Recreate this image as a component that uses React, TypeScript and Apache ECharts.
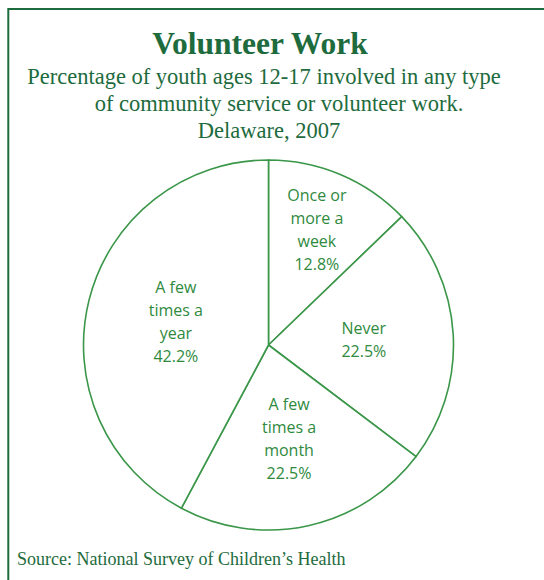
import React, { useEffect, useRef } from "react";
import * as echarts from "echarts";

const categories = [
  "Once or\nmore a\nweek",
  "Never",
  "A few\ntimes a\nmonth",
  "A few\ntimes a\nyear",
];
const percentages = [12.8, 22.5, 22.5, 42.2];

const titleText = "Volunteer Work";
const subtitleLines = [
  "Percentage of youth ages 12-17 involved in any type",
  "of community service or volunteer work.",
  "Delaware, 2007",
];
const sourceText = "Source: National Survey of Children\u2019s Health";

const DARK_GREEN = "#1e6b3d";
const LABEL_GREEN = "#2f8a3e";
const PIE_GREEN = "#3a9648";

export default function App() {
  const ref = useRef<HTMLDivElement>(null);

  useEffect(() => {
    if (!ref.current) return;
    const chart = echarts.init(ref.current, undefined, { renderer: "svg" });
    const subX = [264, 279, 269];
    const subY = [76, 103, 130];
    chart.setOption({
      animation: false,
      backgroundColor: "#ffffff",
      graphic: [
        {
          type: "rect",
          shape: { x: 8.3, y: 9, width: 700, height: 700 },
          style: { fill: "none", stroke: DARK_GREEN, lineWidth: 2 },
          silent: true,
        },
        {
          type: "text",
          x: 260,
          y: 43,
          style: {
            text: titleText,
            font: 'bold 31.5px "Liberation Serif", "Times New Roman", serif',
            fill: DARK_GREEN,
            textAlign: "center",
            textVerticalAlign: "middle",
          },
        },
        ...subtitleLines.map((line, i) => ({
          type: "text",
          x: subX[i],
          y: subY[i],
          style: {
            text: line,
            font: '22.5px "Liberation Serif", "Times New Roman", serif',
            fill: DARK_GREEN,
            textAlign: "center",
            textVerticalAlign: "middle",
          },
        })),
        {
          type: "text",
          x: 17,
          y: 559,
          style: {
            text: sourceText,
            font: '18px "Liberation Serif", "Times New Roman", serif',
            fill: DARK_GREEN,
            textAlign: "left",
            textVerticalAlign: "middle",
          },
        },
      ],
      series: [
        {
          type: "pie",
          center: [268.5, 345],
          radius: 185,
          startAngle: 90,
          clockwise: true,
          silent: true,
          emphasis: { disabled: true },
          itemStyle: {
            color: "#ffffff",
            borderColor: PIE_GREEN,
            borderWidth: 1.6,
          },
          label: {
            show: true,
            position: "inside",
            formatter: (p: any) => `${p.name}\n${Number(p.value).toFixed(1)}%`,
            fontFamily: '"Open Sans", "Noto Sans", sans-serif',
            fontSize: 16,
            lineHeight: 23,
            color: LABEL_GREEN,
            align: "center",
          },
          labelLine: { show: false },
          labelLayout: (params: any) =>
            params.dataIndex === 0 ? { dx: 11, dy: -28 } : {},
          data: categories.map((name, i) => ({ name, value: percentages[i] })),
        },
      ],
    });
    return () => chart.dispose();
  }, []);

  return (
    <div
      ref={ref}
      style={{ position: "fixed", left: 0, top: 0, width: 544, height: 580 }}
    />
  );
}
